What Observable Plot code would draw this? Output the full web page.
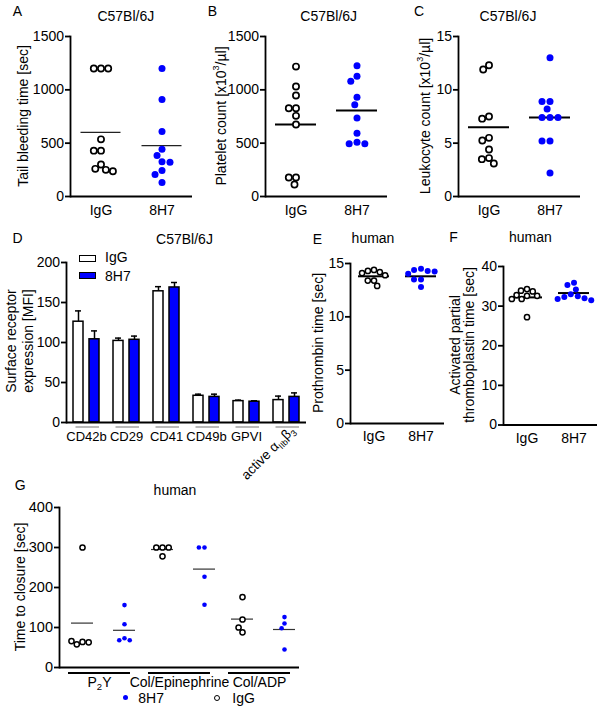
<!DOCTYPE html>
<html><head><meta charset="utf-8">
<script src="https://cdn.jsdelivr.net/npm/d3@7"></script>
<script src="https://cdn.jsdelivr.net/npm/@observablehq/plot@0.6"></script>
<style>
body{margin:0;background:#fff;}
#fig{position:relative;width:602px;height:710px;overflow:hidden;font-family:Arial,"Liberation Sans",sans-serif;color:#000;background:#fff;}
.pl{position:absolute;}
.pl svg{overflow:visible;background:transparent;}
.t{position:absolute;transform:translate(-50%,-50%);white-space:nowrap;font-size:14px;line-height:1;}
.l{position:absolute;transform:translate(0,-50%);white-space:nowrap;font-size:14px;line-height:1;}
.yl{position:absolute;transform:translate(-50%,-50%) rotate(-90deg);white-space:nowrap;font-size:14px;line-height:1;text-align:center;}
.yl sup{font-size:9px;vertical-align:top;position:relative;top:-2px;}
</style></head><body><div id="fig"></div>
<script>
// ---------- data ----------
const groups = ["IgG", "8H7"];
const bleedIgG = [1200, 1200, 1200, 536, 430, 430, 300, 259, 250, 237];
const bleed8H7 = [1200, 910, 610, 443, 384, 325, 321, 243, 206, 131];
const bleedMean = [601, 477];
const bleedTicks = [0, 500, 1000, 1500];

const plateletIgG = [1218, 1031, 947, 828, 828, 756, 675, 178, 178, 112];
const platelet8H7 = [1225, 1128, 1081, 931, 859, 737, 593, 509, 494, 494];
const plateletMean = [675, 806];
const plateletTicks = [0, 500, 1000, 1500];

const leukoIgG = [12.3, 11.9, 7.5, 7.3, 5.5, 5.25, 4.4, 3.6, 3.5, 3.1];
const leuko8H7 = [13.0, 8.9, 8.9, 8.2, 7.4, 7.4, 7.4, 5.2, 5.2, 2.2];
const leukoMean = [6.5, 7.4];
const leukoTicks = [0, 5, 10, 15];

const receptors = ["CD42b", "CD29", "CD41", "CD49b", "GPVI", "active αIIbβ3"];
const surfIgG = [126, 102, 164, 33.4, 26.7, 28];
const surfIgGSem = [13.5, 3.5, 5.8, 2, 1.3, 5];
const surf8H7 = [104, 103.4, 168.8, 32, 26, 32];
const surf8H7Sem = [10.5, 4.6, 6.2, 3.4, 1.2, 5];
const surfTicks = [0, 50, 100, 150, 200];

const ptIgG = [14.4, 14.3, 14.2, 14.1, 13.9, 13.4, 13.4, 12.9];
const pt8H7 = [14.5, 14.4, 14.3, 14.25, 14.05, 13.5, 13.5, 12.8];
const ptMean = [13.8, 13.8];
const ptTicks = [0, 5, 10, 15];

const apttIgG = [34.3, 33.9, 33.7, 32.8, 32.6, 32.6, 31.8, 31.8, 27.2];
const aptt8H7 = [35.9, 35.3, 34.2, 33.0, 32.5, 32.3, 32.0, 31.8, 31.5];
const apttMean = [32.2, 33.3];
const apttTicks = [0, 10, 20, 30, 40];

const assays = ["P2Y", "Col/Epinephrine", "Col/ADP"];
const closureIgG = [[300, 64, 58, 63, 66], [300, 300, 300, 278], [176, 120, 88, 100]];
const closure8H7 = [[156, 108, 73, 68, 68], [300, 300, 227, 157], [126, 110, 98, 45]];
const closureMeanIgG = [111, 295, 121];
const closureMean8H7 = [93, 246, 95];
const closureTicks = [0, 100, 200, 300, 400];

// ---------- helpers ----------
const BLUE = "#0000ff";
const FS = 14;
const STYLE = {fontFamily: "Arial, 'Liberation Sans', sans-serif", fontSize: FS + "px", background: "transparent", overflow: "visible", color: "black"};
const fig = document.getElementById("fig");

function place(node, left, top) {
  const d = document.createElement("div");
  d.className = "pl"; d.style.left = left + "px"; d.style.top = top + "px";
  d.appendChild(node); fig.appendChild(d);
  node.querySelectorAll("text").forEach(t => {
    if (t.textContent === "P2Y") t.innerHTML = 'P<tspan dy="3" font-size="9.5">2</tspan><tspan dy="-3">Y</tspan>';
    if (t.textContent === "active αIIbβ3") t.innerHTML = 'active α<tspan dy="3" font-size="8.5">IIb</tspan><tspan dy="-3">β</tspan><tspan dy="3" font-size="9">3</tspan>';
  });
}
function label(html, x, y, cls = "t", extra = "") {
  const d = document.createElement("div");
  d.className = cls; d.style.left = x + "px"; d.style.top = y + "px";
  if (extra) d.style.cssText += extra;
  d.innerHTML = html; fig.appendChild(d);
}
function box(x, y, w, h, css) {
  const d = document.createElement("div");
  d.style.cssText = `position:absolute;left:${x}px;top:${y}px;width:${w}px;height:${h}px;box-sizing:border-box;${css}`;
  fig.appendChild(d);
}

function scatterPanel(o) {
  const igg = o.igg.map(v => ({g: "IgG", v}));
  const h8 = o.h8.map(v => ({g: "8H7", v}));
  const means = groups.map((g, i) => ({g, v: o.means[i]}));
  return Plot.plot({
    width: o.w, height: o.h,
    marginTop: 10, marginLeft: o.ml, marginRight: o.mr, marginBottom: o.h - 10 - o.fh,
    style: STYLE,
    fx: {domain: groups, padding: 0, label: null},
    y: {domain: o.domain, label: null},
    marks: [
      Plot.axisY({ticks: o.ticks, tickFormat: d => String(d), tickSize: 5, tickPadding: 1.5, strokeWidth: 1.8, label: null, fontSize: FS}),
      Plot.axisFx({anchor: "bottom", tickSize: 0, tickPadding: o.lp, label: null, fontSize: FS}),
      Plot.frame({anchor: "left", facetAnchor: "left", strokeWidth: 1.8}),
      Plot.ruleY([0], {strokeWidth: 1.8}),
      Plot.ruleY(means, {fx: "g", y: "v", insetLeft: o.mi, insetRight: o.mi, stroke: o.mc, strokeWidth: o.mw}),
      Plot.dot(igg, Plot.dodgeX("middle", {fx: "g", y: "v", r: o.ri, padding: o.pi, stroke: "black", strokeWidth: o.sw, fill: "white"})),
      Plot.dot(h8, Plot.dodgeX("middle", {fx: "g", y: "v", r: o.rb, padding: o.pb, fill: BLUE}))
    ]
  });
}

// ---------- panels A, B, C ----------
const top3 = {w: 196, h: 200, ml: 69, mr: 4, fh: 160, lp: 8.5, ri: 3.1, rb: 3.5, sw: 1.7};
place(scatterPanel({...top3, igg: bleedIgG, h8: bleed8H7, means: bleedMean, domain: [0, 1500], ticks: bleedTicks,
  mi: 10.5, mc: "#222", mw: 1.2, pi: 3.6, pb: 3}), 0, 26);
place(scatterPanel({...top3, igg: plateletIgG, h8: platelet8H7, means: plateletMean, domain: [0, 1500], ticks: plateletTicks,
  mi: 10, mc: "black", mw: 2, pi: 3, pb: 2.2}), 195, 26);
place(scatterPanel({...top3, igg: leukoIgG, h8: leuko8H7, means: leukoMean, domain: [0, 15], ticks: leukoTicks,
  mi: 10, mc: "black", mw: 2, pi: 3, pb: 2.4}), 387.7, 26);

// ---------- panel D ----------
const surf = receptors.flatMap((rc, i) => [
  {rc, g: "IgG", m: surfIgG[i], s: surfIgGSem[i]},
  {rc, g: "8H7", m: surf8H7[i], s: surf8H7Sem[i]}
]);
place(Plot.plot({
  width: 312, height: 230, marginTop: 10, marginLeft: 64, marginRight: 5, marginBottom: 60,
  style: STYLE,
  fx: {domain: receptors, padding: 0, label: null},
  x: {domain: groups, paddingInner: 0.35, paddingOuter: 0.37, axis: null},
  y: {domain: [0, 200], label: null},
  color: {domain: groups, range: ["white", BLUE]},
  marks: [
    Plot.axisY({ticks: surfTicks, tickFormat: d => String(d), tickSize: 5, tickPadding: 1.5, strokeWidth: 1.8, label: null, fontSize: FS}),
    Plot.axisFx({anchor: "bottom", ticks: receptors.slice(0, 5), tickSize: 0, tickPadding: 9.5, label: null, fontSize: 13}),
    Plot.axisFx({anchor: "bottom", ticks: receptors.slice(5), tickSize: 0, tickPadding: 6, tickRotate: -45, dx: 6, label: null, fontSize: 13.5}),
    Plot.ruleX(surf, {fx: "rc", x: "g", y1: "m", y2: d => d.m + d.s, strokeWidth: 1.5}),
    Plot.tickY(surf, {fx: "rc", x: "g", y: d => d.m + d.s, insetLeft: 2, insetRight: 2, strokeWidth: 1.5}),
    Plot.barY(surf, {fx: "rc", x: "g", y: "m", fill: "g", stroke: "black", strokeWidth: 1.5}),
    Plot.ruleY(receptors, {fx: d => d, y: d => 0, dy: 4.5, insetLeft: 9.5, insetRight: 7, stroke: "#8a8a8a", strokeWidth: 1.2}),
    Plot.frame({anchor: "left", facetAnchor: "left", strokeWidth: 1.8}),
    Plot.ruleY([0], {strokeWidth: 1.8})
  ]
}), 0, 251.7);

// ---------- panels E, F ----------
const mid = {w: 155, ml: 55, mr: 5, lp: 8, ri: 2.6, rb: 3, sw: 1.5, mi: 8, mc: "black", mw: 2, pi: 0.6, pb: 0};
place(scatterPanel({...mid, h: 200, fh: 160, igg: ptIgG, h8: pt8H7, means: ptMean, domain: [0, 15], ticks: ptTicks}), 294.3, 253.3);
place(scatterPanel({...mid, h: 198.5, fh: 158.5, igg: apttIgG, h8: aptt8H7, means: apttMean, domain: [0, 40], ticks: apttTicks}), 446.7, 256);

// ---------- panel G ----------
const closure = assays.flatMap((a, i) => [
  ...closureIgG[i].map(v => ({a, g: "IgG", v})),
  ...closure8H7[i].map(v => ({a, g: "8H7", v}))
]);
const cMeanIgG = assays.map((a, i) => ({a, v: closureMeanIgG[i]}));
const cMean8H7 = assays.map((a, i) => ({a, v: closureMean8H7[i]}));
place(Plot.plot({
  width: 306, height: 200, marginTop: 10, marginLeft: 59.3, marginRight: 6.7, marginBottom: 30,
  style: STYLE,
  fx: {domain: assays, padding: 0, label: null},
  y: {domain: [0, 400], label: null},
  marks: [
    Plot.axisY({ticks: closureTicks, tickFormat: d => String(d), tickSize: 5, tickPadding: 1.5, strokeWidth: 1.8, label: null, fontSize: FS + 0.5}),
    Plot.axisFx({anchor: "bottom", tickSize: 0, tickPadding: 10, label: null, fontSize: FS}),
    Plot.frame({anchor: "left", facetAnchor: "left", strokeWidth: 1.8}),
    Plot.ruleY([0], {strokeWidth: 1.8}),
    Plot.ruleY(assays, {fx: d => d, y: d => 0, dy: 5.5, insetLeft: 9, insetRight: 9, strokeWidth: 2}),
    Plot.ruleY(cMeanIgG, {fx: "a", y: "v", insetLeft: 12, insetRight: 46, stroke: "#333", strokeWidth: 1.2}),
    Plot.ruleY(cMean8H7, {fx: "a", y: "v", insetLeft: 54, insetRight: 4, stroke: "#333", strokeWidth: 1.2}),
    Plot.dot(closure.filter(d => d.g === "IgG"), Plot.dodgeX("middle", {fx: "a", y: "v", r: 2.6, padding: 1.4, dx: -17, stroke: "black", strokeWidth: 1.5, fill: "white"})),
    Plot.dot(closure.filter(d => d.g === "8H7"), Plot.dodgeX("middle", {fx: "a", y: "v", r: 2.3, padding: 3.2, dx: 25, fill: BLUE}))
  ]
}), 0, 497.3);

// ---------- text: letters, titles, axis labels ----------
[["A", 17.5, 10.7], ["B", 212.5, 10.7], ["C", 419, 10.7], ["D", 17.5, 238.3], ["E", 317.5, 239.3], ["F", 453.5, 236.7], ["G", 20.3, 485]]
  .forEach(([s, x, y]) => label(s, x, y));
[["C57Bl/6J", 125.8, 16], ["C57Bl/6J", 328.7, 16], ["C57Bl/6J", 508, 16], ["C57Bl/6J", 184.5, 239],
 ["human", 373, 237.7], ["human", 530.3, 237], ["human", 175, 490]]
  .forEach(([s, x, y]) => label(s, x, y));
label("Tail bleeding time [sec]", 23, 116, "yl");
label("Platelet count [x10<sup>3</sup>/µl]", 220.5, 116, "yl");
label("Leukocyte count [x10<sup>3</sup>/µl]", 424.5, 116, "yl");
label("Surface receptor<br>expression [MFI]", 18.5, 341, "yl", "line-height:16.5px;");
label("Prothrombin time [sec]", 318, 343, "yl");
label("Activated partial<br>thromboplastin time [sec]", 461.5, 345, "yl", "line-height:13.5px;");
label("Time to closure [sec]", 20, 587, "yl");

// ---------- legends ----------
box(79, 255, 17, 7, "border:1.5px solid #000;background:#fff;");
label("IgG", 105, 257, "l");
box(79, 272, 17, 7, "border:1.5px solid #000;background:" + BLUE + ";");
label("8H7", 105, 275.5, "l");
box(122.5, 695.2, 5, 5, "border-radius:50%;background:" + BLUE + ";");
label("8H7", 138.3, 697.7, "l");
box(213.7, 694.7, 6.2, 6.2, "border-radius:50%;border:1.5px solid #000;background:#fff;");
label("IgG", 232.3, 697.7, "l");
</script></body></html>
